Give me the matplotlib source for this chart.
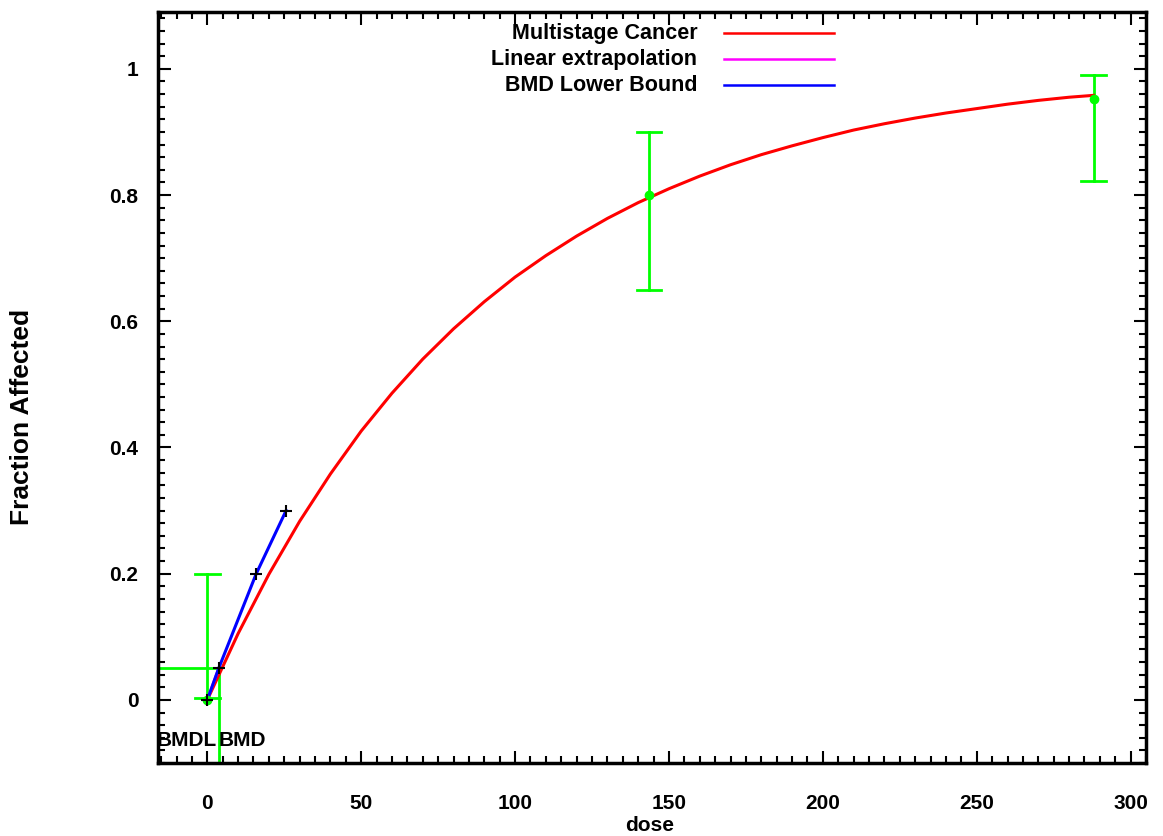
import numpy as np
from matplotlib import pyplot as plt
from matplotlib.ticker import MultipleLocator

plt.rcParams['font.family'] = ['Liberation Sans', 'DejaVu Sans']
plt.rcParams['font.weight'] = 'bold'

# observed data with error bars
dose = [0, 143.5, 288]
frac = [0.0, 0.80, 0.952]
err_lo = [0.003, 0.65, 0.822]
err_hi = [0.20, 0.90, 0.990]

# multistage cancer model curve
curve_dose = [0, 10, 20, 30, 40, 50, 60, 70, 80, 90, 100, 110, 120, 130, 140,
              150, 160, 170, 180, 190, 200, 210, 220, 230, 240, 250, 260, 270,
              280, 288]
curve_frac = [0.0, 0.105, 0.199, 0.283, 0.358, 0.426, 0.486, 0.540, 0.588,
              0.631, 0.670, 0.704, 0.735, 0.763, 0.788, 0.810, 0.830, 0.848,
              0.864, 0.878, 0.891, 0.903, 0.913, 0.922, 0.930, 0.937, 0.944,
              0.950, 0.955, 0.958]

# BMD lower bound line and its marker points
bmdl_dose = [0, 3.7, 15.9, 25.6]
bmdl_frac = [0.0, 0.05, 0.20, 0.30]

# linear extrapolation (hidden under the blue line)
lin_dose = [0, 3.7]
lin_frac = [0.0, 0.05]

bmr = 0.05
bmd = 3.9
bmdl = 2.4

green = '#00ff00'

fig = plt.figure(figsize=(11.63, 8.36), dpi=100)
ax = fig.add_axes([0.1359, 0.0873, 0.8495, 0.8983])

ax.plot(curve_dose, curve_frac, color='#ff0000', lw=2.2, zorder=3)
ax.plot(lin_dose, lin_frac, color='#ff00ff', lw=2, zorder=3)
ax.plot(bmdl_dose, bmdl_frac, color='#0000ff', lw=2.2, zorder=4)
ax.plot(bmdl_dose, bmdl_frac, 'k+', ms=8, mew=1.5, zorder=5)

# error bars
for d, f, lo, hi in zip(dose, frac, err_lo, err_hi):
    ax.plot([d, d], [lo, hi], color=green, lw=2, zorder=2)
    ax.plot([d - 4, d + 4], [lo, lo], color=green, lw=2, zorder=2)
    ax.plot([d - 4, d + 4], [hi, hi], color=green, lw=2, zorder=2)
ax.plot(dose, frac, 'o', color=green, ms=6, zorder=4)

# BMD lines
ax.plot([-16, bmd], [bmr, bmr], color=green, lw=2, zorder=2)
ax.plot([bmd, bmd], [bmr, -0.1], color=green, lw=2, zorder=2)
ax.text(bmdl + 0.8, -0.064, 'BMDL', ha='right', va='center', fontsize=15, fontweight='bold')
ax.text(bmd - 0.3, -0.064, 'BMD', ha='left', va='center', fontsize=15, fontweight='bold')

ax.set_xlim(-16, 305)
ax.set_ylim(-0.1, 1.09)
ax.xaxis.set_major_locator(MultipleLocator(50))
ax.xaxis.set_minor_locator(MultipleLocator(5))
ax.yaxis.set_minor_locator(MultipleLocator(0.02))
ax.set_yticks([0, 0.2, 0.4, 0.6, 0.8, 1.0])
ax.set_yticklabels(['0', '0.2', '0.4', '0.6', '0.8', '1'])
ax.tick_params(which='both', direction='in', top=True, right=True, width=1.5,
               labelsize=15)
ax.tick_params(which='major', length=9)
ax.tick_params(which='minor', length=5)
ax.tick_params(axis='x', which='major', pad=22)
ax.tick_params(axis='y', which='major', pad=14)
for s in ax.spines.values():
    s.set_linewidth(2.5)

ax.set_xlabel('dose', fontsize=15, fontweight='bold')
ax.xaxis.set_label_coords(0.498, -0.083)
ax.xaxis.label.set_va('center')
ax.set_ylabel('Fraction Affected', fontsize=19, fontweight='bold')
ax.yaxis.set_label_coords(-0.1377, 0.461)
ax.yaxis.label.set_va('center')

# legend drawn by hand: text right aligned, sample line to the right
labels = ['Multistage Cancer', 'Linear extrapolation', 'BMD Lower Bound']
colors = ['#ff0000', '#ff00ff', '#0000ff']
for i, (lab, c) in enumerate(zip(labels, colors)):
    y = 0.972 - i * 0.0347
    ax.text(0.546, y, lab, transform=ax.transAxes, ha='right', va='center',
            fontsize=15.5, fontweight='bold')
    ax.plot([0.573, 0.684], [y, y], transform=ax.transAxes, color=c, lw=1.8)

fig.savefig('out.png', dpi=100)
